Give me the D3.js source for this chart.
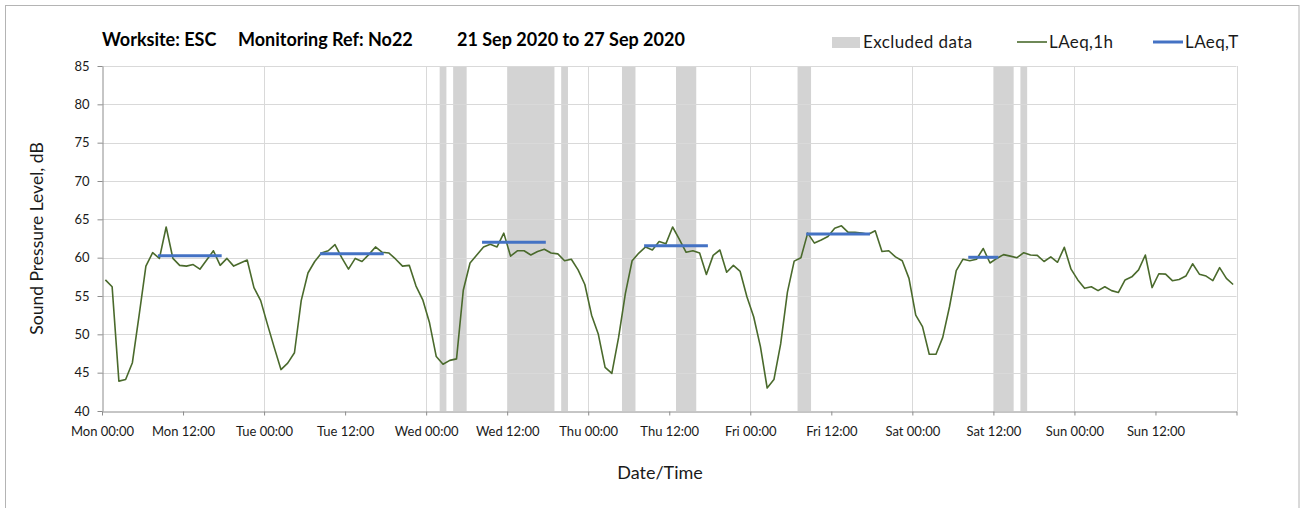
<!DOCTYPE html>
<html>
<head>
<meta charset="utf-8">
<script src="https://cdn.jsdelivr.net/npm/d3@7"></script>
<style>
  body { margin: 0; background: #fff; }
  svg { display: block; font-family: Lato, "Open Sans", sans-serif; }
</style>
</head>
<body>
<svg width="1304" height="508"></svg>
<script>
// hourly LAeq,1h values, Mon 00:00 .. Sun 23:00 (168 hours)
const laeq1h = [
  57.1, 56.2, 43.9, 44.1, 46.3, 52.5, 58.9, 60.65, 59.9, 64.0, 59.9, 59.0,
  58.9, 59.1, 58.5, 59.7, 60.9, 59.0, 59.9, 58.9, 59.3, 59.7, 56.1, 54.4,
  51.3, 48.3, 45.4, 46.25, 47.6, 54.4, 58.0, 59.5, 60.6, 60.9, 61.7, 60.0,
  58.5, 59.9, 59.5, 60.4, 61.4, 60.7, 60.6, 59.8, 58.9, 59.0, 56.3, 54.5,
  51.5, 47.1, 46.1, 46.6, 46.8, 55.75, 59.3, 60.35, 61.4, 61.75, 61.4, 63.2,
  60.2, 60.9, 60.9, 60.35, 60.8, 61.1, 60.6, 60.5, 59.6, 59.8, 58.4, 56.5,
  52.5, 50.0, 45.7, 44.9, 49.6, 55.3, 59.6, 60.6, 61.4, 61.0, 62.1, 61.8,
  64.0, 62.4, 60.7, 60.9, 60.6, 57.8, 60.3, 61.0, 58.1, 59.0, 58.2, 54.9,
  52.3, 48.4, 43.0, 44.1, 48.75, 55.5, 59.55, 60.0, 63.2, 61.9, 62.3, 62.75,
  63.85, 64.15, 63.3, 63.3, 63.2, 63.05, 63.5, 60.8, 60.9, 60.1, 59.6, 57.3,
  52.5, 51.0, 47.4, 47.4, 49.6, 53.6, 58.3, 59.8, 59.6, 59.8, 61.2, 59.3,
  59.9, 60.4, 60.2, 60.0, 60.65, 60.35, 60.3, 59.5, 60.1, 59.4, 61.35, 58.5,
  57.1, 56.0, 56.2, 55.7, 56.2, 55.7, 55.45, 57.1, 57.5, 58.4, 60.35, 56.1,
  57.9, 57.85, 57.0, 57.15, 57.6, 59.2, 57.85, 57.6, 57.0, 58.7, 57.3, 56.5
];

// LAeq,T over each daytime period: [start hour, end hour, level]
const periodStart = [8.5, 32.5, 56.5, 80.5, 104.5, 128.5];
const periodEnd   = [17.5, 41.5, 65.5, 89.5, 113.5, 132.5];
const periodLevel = [60.25, 60.5, 62.0, 61.55, 63.1, 60.05];

// excluded data windows, hours from Mon 00:00
const excludedStart = [50, 52, 60, 68, 77, 85, 103, 132, 136];
const excludedEnd   = [51, 54, 67, 69, 79, 88, 105, 135, 137];

const dayNames = ["Mon", "Tue", "Wed", "Thu", "Fri", "Sat", "Sun"];
const xTicks = d3.range(0, 168, 12);
const yTicks = d3.range(40, 90, 5);

const svg = d3.select("svg");
const x = d3.scaleLinear().domain([0, 168]).range([102, 1236.5]);
const y = d3.scaleLinear().domain([40, 85]).range([411, 66]);

// outer frame
svg.append("rect")
  .attr("x", 5.5).attr("y", 5.5)
  .attr("width", 1293.5).attr("height", 520)
  .attr("fill", "none").attr("stroke", "#b4b4b4");

// excluded bands
svg.append("g").selectAll("rect")
  .data(excludedStart.map((s, i) => [s, excludedEnd[i]]))
  .join("rect")
  .attr("x", d => x(d[0]))
  .attr("width", d => x(d[1]) - x(d[0]))
  .attr("y", y(85))
  .attr("height", y(40) - y(85))
  .attr("fill", "#d3d3d3");

// gridlines
svg.append("g").selectAll("line")
  .data(yTicks.slice(1))
  .join("line")
  .attr("x1", x(0)).attr("x2", x(168))
  .attr("y1", d => Math.round(y(d)) + 0.5).attr("y2", d => Math.round(y(d)) + 0.5)
  .attr("stroke", "#d9d9d9");

svg.append("g").selectAll("line")
  .data(d3.range(24, 169, 24))
  .join("line")
  .attr("x1", d => Math.round(x(d)) + 0.5).attr("x2", d => Math.round(x(d)) + 0.5)
  .attr("y1", y(85)).attr("y2", y(40))
  .attr("stroke", "#d9d9d9");

// axes
const fmt = h => dayNames[Math.floor(h / 24)] + (h % 24 === 0 ? " 00:00" : " 12:00");

const xAxis = svg.append("g")
  .attr("transform", `translate(0,${Math.round(y(40)) + 0.5})`)
  .call(d3.axisBottom(x).tickValues(xTicks.concat([168])).tickFormat(d => d === 168 ? "" : fmt(d)).tickSizeInner(4).tickSizeOuter(0));

const yAxis = svg.append("g")
  .attr("transform", `translate(${Math.round(x(0)) + 0.5},0)`)
  .call(d3.axisLeft(y).tickValues(yTicks).tickSizeInner(5).tickSizeOuter(0).tickPadding(8));

[xAxis, yAxis].forEach(a => {
  a.select(".domain").attr("stroke", "#8c8c8c");
  a.selectAll(".tick line").attr("stroke", "#8c8c8c");
  a.selectAll("text").attr("fill", "#1a1a1a").style("font-size", "13px")
    .style("font-family", "Lato, sans-serif");
});
xAxis.selectAll("text").attr("dy", "1.35em");

// LAeq,1h line
svg.append("path")
  .datum(laeq1h)
  .attr("fill", "none")
  .attr("stroke", "#4a6a2c")
  .attr("stroke-width", 1.6)
  .attr("stroke-linejoin", "round")
  .attr("d", d3.line().x((d, i) => x(i + 0.5)).y(d => y(d)));

// LAeq,T segments
svg.append("g").selectAll("line")
  .data(periodLevel.map((v, i) => ({s: periodStart[i], e: periodEnd[i], v})))
  .join("line")
  .attr("x1", d => x(d.s)).attr("x2", d => x(d.e))
  .attr("y1", d => y(d.v)).attr("y2", d => y(d.v))
  .attr("stroke", "#4472c4")
  .attr("stroke-width", 3)
  .attr("stroke-linecap", "square");

// title
const title = svg.append("g").style("font-weight", "bold").style("font-size", "18px").attr("fill", "#000");
title.append("text").attr("x", 102).attr("y", 46).text("Worksite: ESC");
title.append("text").attr("x", 238).attr("y", 46).text("Monitoring Ref: No22");
title.append("text").attr("x", 457).attr("y", 46).text("21 Sep 2020 to 27 Sep 2020");

// axis titles
svg.append("text")
  .attr("transform", `translate(43,${(y(40) + y(85)) / 2}) rotate(-90)`)
  .attr("text-anchor", "middle")
  .style("font-size", "17.5px").attr("fill", "#1a1a1a")
  .text("Sound Pressure Level, dB");

svg.append("text")
  .attr("x", 660).attr("y", 479)
  .attr("text-anchor", "middle")
  .style("font-size", "18px").attr("fill", "#1a1a1a")
  .text("Date/Time");

// legend
const legend = svg.append("g").style("font-size", "17px").style("letter-spacing", "0.4px").attr("fill", "#1a1a1a");
legend.append("rect").attr("x", 832).attr("y", 37).attr("width", 28).attr("height", 11).attr("fill", "#d3d3d3");
legend.append("text").attr("x", 863).attr("y", 48).text("Excluded data");
legend.append("line").attr("x1", 1017).attr("x2", 1047).attr("y1", 42).attr("y2", 42)
  .attr("stroke", "#4a6a2c").attr("stroke-width", 1.6);
legend.append("text").attr("x", 1049).attr("y", 48).text("LAeq,1h");
legend.append("line").attr("x1", 1153).attr("x2", 1183).attr("y1", 42).attr("y2", 42)
  .attr("stroke", "#4472c4").attr("stroke-width", 3);
legend.append("text").attr("x", 1185).attr("y", 48).text("LAeq,T");
</script>
</body>
</html>
